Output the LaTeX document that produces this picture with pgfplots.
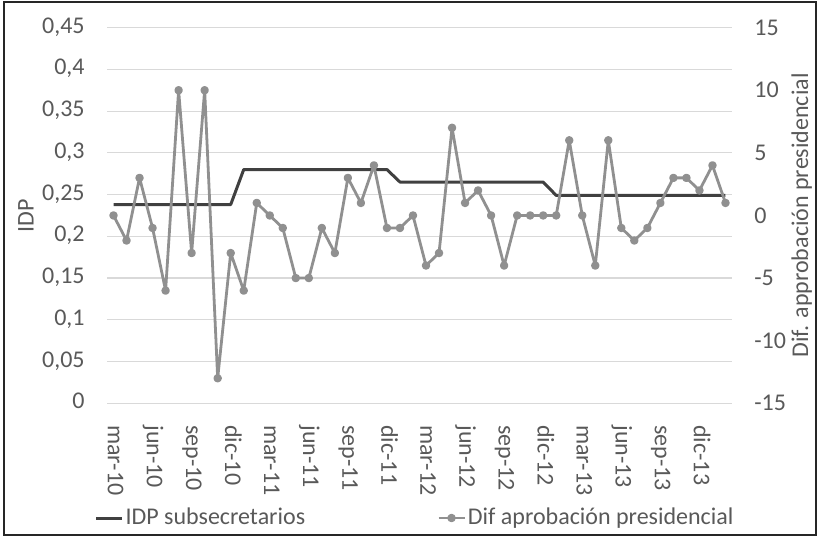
\documentclass[border=0pt]{standalone}
\usepackage{pgfplots}
\usepackage{pgfplotstable}
\pgfplotsset{compat=1.18}
\usepackage{fontspec}
\setmainfont{Carlito}
\definecolor{idpc}{HTML}{404040}
\definecolor{difc}{HTML}{909090}
\definecolor{txt}{HTML}{595959}
\definecolor{gridc}{HTML}{D9D9D9}

\pgfplotstableread{
x idp dif
0 0.238 0
1 0.238 -2
2 0.238 3
3 0.238 -1
4 0.238 -6
5 0.238 10
6 0.238 -3
7 0.238 10
8 0.238 -13
9 0.238 -3
10 0.280 -6
11 0.280 1
12 0.280 0
13 0.280 -1
14 0.280 -5
15 0.280 -5
16 0.280 -1
17 0.280 -3
18 0.280 3
19 0.280 1
20 0.280 4
21 0.280 -1
22 0.265 -1
23 0.265 0
24 0.265 -4
25 0.265 -3
26 0.265 7
27 0.265 1
28 0.265 2
29 0.265 0
30 0.265 -4
31 0.265 0
32 0.265 0
33 0.265 0
34 0.249 0
35 0.249 6
36 0.249 0
37 0.249 -4
38 0.249 6
39 0.249 -1
40 0.249 -2
41 0.249 -1
42 0.249 1
43 0.249 3
44 0.249 3
45 0.249 2
46 0.249 4
47 0.249 1
}\datatable

\begin{document}
\begin{tikzpicture}[x=1pt,y=1pt]
\useasboundingbox (0,0) rectangle (409.5,269);
\draw[line width=1pt, black!85] (2,1.5) rectangle (408,268);
\begin{axis}[
  at={(53.5pt,67.35pt)}, anchor=south west,
  width=312.5pt, height=187.85pt, scale only axis,
  xmin=-0.5, xmax=47.5, ymin=0, ymax=0.45,
  ytick={0,0.05,0.1,0.15,0.2,0.25,0.3,0.35,0.4,0.45},
  ymajorgrids, grid style={gridc, line width=0.6pt},
  axis line style={draw=none}, major tick length=0pt,
  xtick={0,3,...,45},
  xticklabels={mar-10,jun-10,sep-10,dic-10,mar-11,jun-11,sep-11,dic-11,mar-12,jun-12,sep-12,dic-12,mar-13,jun-13,sep-13,dic-13},
  xticklabel style={rotate=-90, anchor=west, inner sep=0pt},
  xticklabel shift=10.8pt,
  yticklabel style={anchor=east, inner sep=0pt},
  yticklabel shift=11pt,
  typeset ticklabels with strut,
  /pgf/number format/.cd, use comma, fixed, assume math mode=true, /pgfplots/.cd,
  tick label style={font=\fontsize{12}{14}\selectfont, text=txt},
  every axis y label/.style={at={(axis description cs:-0.1296,0.5)}, rotate=90, anchor=center, font=\fontsize{12}{14}\selectfont, text=txt},
  ylabel={IDP},
]
\addplot[idpc, line width=1.5pt, line join=round, no marks] table[x=x,y=idp]{\datatable};
\end{axis}
\begin{axis}[
  at={(53.5pt,67.35pt)}, anchor=south west,
  width=312.5pt, height=187.85pt, scale only axis,
  xmin=-0.5, xmax=47.5, ymin=-15, ymax=15,
  axis x line=none, axis y line*=right, axis line style={draw=none}, major tick length=0pt,
  ytick={-15,-10,-5,0,5,10,15},
  yticklabels={-15,-10,-5,0,5,10,15},
  yticklabel style={anchor=west, inner sep=0pt},
  yticklabel shift=11pt,
  tick label style={font=\fontsize{12}{14}\selectfont, text=txt},
  every axis y label/.style={at={(axis description cs:1.1115,0.5)}, rotate=90, anchor=center, font=\fontsize{12}{14}\selectfont, text=txt},
  ylabel={Dif. approbación presidencial},
  legend style={at={(axis description cs:0.4912,-0.3053)}, anchor=center, draw=none, fill=none,
    font=\fontsize{12}{14}\selectfont, text=txt, inner sep=0pt,
    nodes={inner sep=0pt},
    /tikz/every odd column/.append style={column sep=1pt},
    /tikz/every even column/.append style={column sep=66pt}},
  legend columns=2,
  legend image code/.code={\draw[mark repeat=2,mark phase=2,#1] plot coordinates {(0pt,0pt) (6.5pt,0pt) (13pt,0pt)};},
]
\addlegendimage{idpc, line width=1.5pt}
\addlegendentry{IDP subsecretarios}
\addplot[difc, line width=1.4pt, line join=round, mark=*, mark size=1.4pt, mark options={fill=difc, draw=difc}] table[x=x,y=dif]{\datatable};
\addlegendentry{Dif aprobación presidencial}
\end{axis}
\end{tikzpicture}
\end{document}
